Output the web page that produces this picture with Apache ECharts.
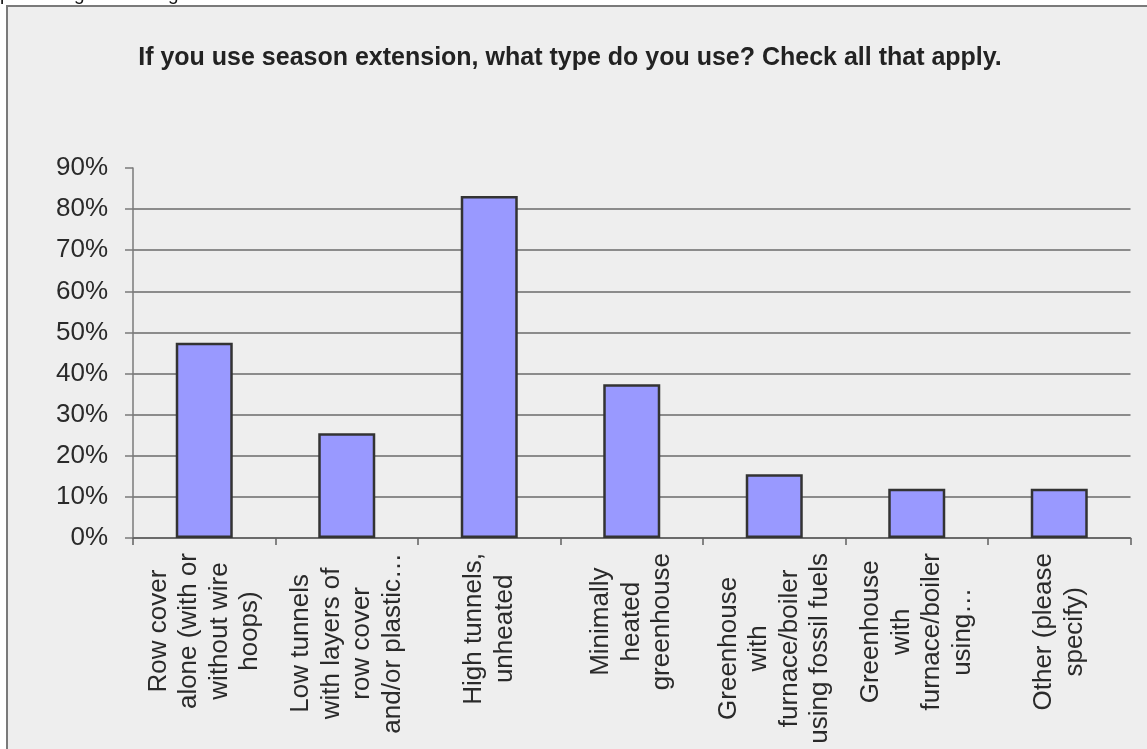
<!DOCTYPE html>
<html>
<head>
<meta charset="utf-8">
<script src="https://cdn.jsdelivr.net/npm/echarts@6/dist/echarts.min.js"></script>
<style>
html,body{margin:0;padding:0;background:#ffffff;}
#chart{width:1147px;height:749px;}
</style>
</head>
<body>
<div id="chart"></div>
<script>
const titleText = "If you use season extension, what type do you use? Check all that apply.";
const clippedNote = "percentage of each gets";
const categories = [
  "Row cover\nalone (with or\nwithout wire\nhoops)",
  "Low tunnels\nwith layers of\nrow cover\nand/or plastic\u2026",
  "High tunnels,\nunheated",
  "Minimally\nheated\ngreenhouse",
  "Greenhouse\nwith\nfurnace/boiler\nusing fossil fuels",
  "Greenhouse\nwith\nfurnace/boiler\nusing\u2026",
  "Other (please\nspecify)"
];
const values = [47.5, 25.5, 83.2, 37.4, 15.5, 12.0, 12.0];
const yMin = 0, yMax = 90, yStep = 10;

const chart = echarts.init(document.getElementById('chart'), null, {renderer: 'canvas'});
const FONT = '"Liberation Sans", Arial, sans-serif';

chart.setOption({
  backgroundColor: '#ffffff',
  animation: false,
  graphic: [
    {
      type: 'rect', z: -10,
      shape: {x: 7, y: 6, width: 1200, height: 800},
      style: {fill: '#eeeeee', stroke: '#7a7a7a', lineWidth: 2}
    },
    {
      type: 'text', z: 10,
      style: {x: 0, y: 4, text: clippedNote, font: '19px ' + FONT, fill: '#111', verticalAlign: 'bottom'}
    }
  ],
  title: {
    text: titleText,
    left: 565, top: 41, textAlign: 'center',
    textStyle: {fontFamily: FONT, fontSize: 25, fontWeight: 'bold', color: '#222'}
  },
  grid: {left: 133, right: 16.5, top: 168, bottom: 211, containLabel: false},
  xAxis: {
    type: 'category',
    data: categories,
    boundaryGap: true,
    axisLine: {show: true, lineStyle: {color: '#606060', width: 1.5}},
    axisTick: {show: true, length: 7, alignWithLabel: false, lineStyle: {color: '#606060', width: 1.5}},
    axisLabel: {
      interval: 0, rotate: 90, margin: 15,
      formatter: v => v.split('\n').map(l => '{c|' + l + '}').join('\n'),
      rich: {c: {align: 'center', fontFamily: FONT, fontSize: 26, lineHeight: 30.5, color: '#2a2a2a'}}
    },
    splitLine: {show: false}
  },
  yAxis: {
    type: 'value',
    min: yMin, max: yMax, interval: yStep,
    axisLine: {show: true, lineStyle: {color: '#7a7a7a', width: 1.5}},
    axisTick: {show: true, length: 8, lineStyle: {color: '#7a7a7a', width: 1.5}},
    axisLabel: {
      margin: 25, formatter: v => v + '%',
      fontFamily: FONT, fontSize: 26, color: '#2a2a2a'
    },
    splitLine: {show: true, showMaxLine: false, lineStyle: {color: '#6a6a6a', width: 1.5}}
  },
  series: [{
    type: 'bar',
    data: values,
    barWidth: '40%',
    itemStyle: {color: '#9999ff', borderColor: '#333333', borderWidth: 2.5}
  }]
});
</script>
</body>
</html>
